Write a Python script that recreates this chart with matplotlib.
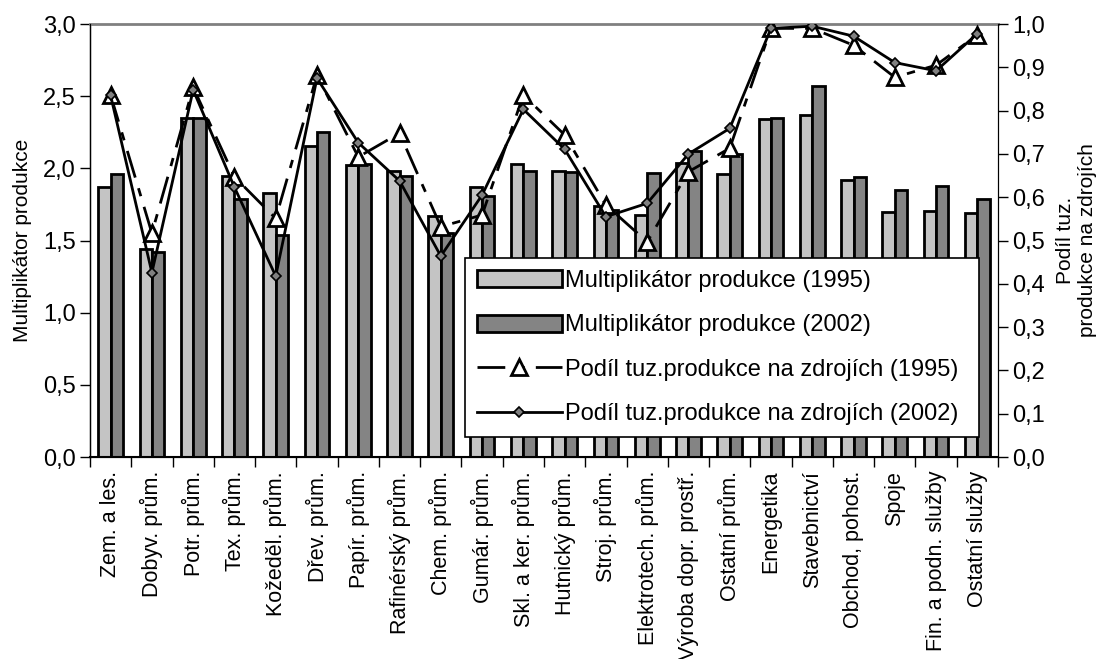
import numpy as np
import matplotlib.pyplot as plt
from matplotlib.ticker import FuncFormatter, MultipleLocator

plt.rcParams['font.family'] = ['Liberation Sans', 'DejaVu Sans']

odvetvi = ['Zem. a les.', 'Dobyv. prům.', 'Potr. prům.', 'Tex. prům.',
           'Kožeděl. prům.', 'Dřev. prům.', 'Papír. prům.', 'Rafinérský prům.',
           'Chem. prům.', 'Gumár. prům.', 'Skl. a ker. prům.', 'Hutnický prům.',
           'Stroj. prům.', 'Elektrotech. prům.', 'Výroba dopr. prostř.',
           'Ostatní prům.', 'Energetika', 'Stavebnictví', 'Obchod, pohost.',
           'Spoje', 'Fin. a podn. služby', 'Ostatní služby']

mult_1995 = [1.87, 1.44, 2.35, 1.95, 1.83, 2.155, 2.02, 1.98, 1.67, 1.87, 2.03,
             1.98, 1.74, 1.68, 2.04, 1.96, 2.34, 2.37, 1.92, 1.70, 1.705, 1.69]
mult_2002 = [1.96, 1.42, 2.35, 1.79, 1.54, 2.25, 2.03, 1.95, 1.55, 1.81, 1.98,
             1.975, 1.71, 1.97, 2.12, 2.10, 2.35, 2.57, 1.94, 1.85, 1.88, 1.79]

podil_1995 = [0.836, 0.517, 0.854, 0.647, 0.551, 0.882, 0.693, 0.748, 0.532,
              0.559, 0.836, 0.744, 0.582, 0.497, 0.659, 0.713, 0.990, 0.990,
              0.951, 0.877, 0.905, 0.975]
podil_2002 = [0.835, 0.426, 0.848, 0.623, 0.418, 0.875, 0.726, 0.638, 0.464,
              0.605, 0.803, 0.711, 0.555, 0.586, 0.700, 0.759, 0.990, 0.995,
              0.972, 0.911, 0.892, 0.978]

x = np.arange(len(odvetvi))
w = 0.3

fig = plt.figure(figsize=(11.04, 6.59), dpi=100)
ax = fig.add_axes([0.0815, 0.3065, 0.8225, 0.657])

b1 = ax.bar(x - w / 2, mult_1995, w, color='#c4c4c4', edgecolor='black',
            linewidth=2, label='Multiplikátor produkce (1995)')
b2 = ax.bar(x + w / 2, mult_2002, w, color='#848484', edgecolor='black',
            linewidth=2, label='Multiplikátor produkce (2002)')

ax.set_xlim(-0.5, len(odvetvi) - 0.5)
ax.set_ylim(0, 3)
ax.yaxis.set_major_locator(MultipleLocator(0.5))
ax.yaxis.set_major_formatter(FuncFormatter(lambda v, p: f'{v:.1f}'.replace('.', ',')))
ax.set_xticks(x)
ax.set_xticklabels(odvetvi, rotation=90, fontsize=15.5)
ax.tick_params(axis='x', length=0, pad=10)
ax.set_xticks(np.arange(len(odvetvi) + 1) - 0.5, minor=True)
ax.tick_params(axis='x', which='minor', length=7, width=1, direction='out')
ax.tick_params(axis='y', labelsize=17, length=7, width=1, direction='out', pad=3)
ax.set_ylabel('Multiplikátor produkce', fontsize=15, labelpad=8)
ax.spines['top'].set_color('#808080')
ax.spines['top'].set_linewidth(2)
ax.spines['bottom'].set_linewidth(1.5)
ax.spines['left'].set_linewidth(1)

ax2 = ax.twinx()
l1, = ax2.plot(x, podil_1995, color='black', linewidth=2, dashes=(10, 4, 3, 4),
               marker='^', markersize=12, markerfacecolor='white',
               markeredgecolor='black', markeredgewidth=2,
               label='Podíl tuz.produkce na zdrojích (1995)')
l2, = ax2.plot(x, podil_2002, color='black', linewidth=2, marker='D',
               markersize=5, markerfacecolor='#808080', markeredgecolor='black',
               markeredgewidth=1.2, label='Podíl tuz.produkce na zdrojích (2002)')
ax2.set_ylim(0, 1)
ax2.yaxis.set_major_locator(MultipleLocator(0.1))
ax2.yaxis.set_major_formatter(FuncFormatter(lambda v, p: f'{v:.1f}'.replace('.', ',')))
ax2.tick_params(axis='y', labelsize=17, length=7, width=1, direction='out', pad=3)
ax2.set_ylabel('Podíl tuz.\nprodukce na zdrojích', fontsize=15, labelpad=8)
ax2.spines['top'].set_visible(False)

leg = ax2.legend(handles=[b1, b2, l1, l2], loc='lower left',
                 bbox_to_anchor=(0.413, 0.046, 0.566, 0.42), mode='expand',
                 fontsize=17, frameon=True, fancybox=False, framealpha=1,
                 edgecolor='black', handlelength=3.6, handleheight=0.75,
                 handletextpad=0.15, labelspacing=0.95, borderpad=0.5,
                 borderaxespad=0)
leg.get_frame().set_linewidth(1.2)
leg.set_zorder(10)

fig.savefig('out.png', dpi=100)
